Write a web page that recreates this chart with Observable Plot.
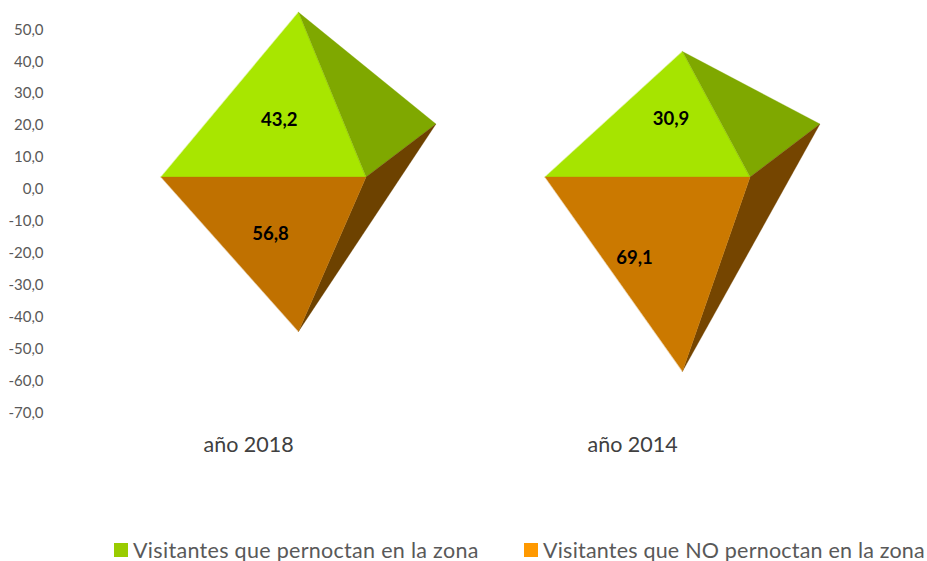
<!DOCTYPE html>
<html><head><meta charset="utf-8">
<script src="https://cdn.jsdelivr.net/npm/d3@7"></script>
<script src="https://cdn.jsdelivr.net/npm/@observablehq/plot@0.6"></script>
<style>
html,body{margin:0;padding:0;background:#fff;width:927px;height:561px;overflow:hidden}
svg{display:block}
#legend{position:relative;height:31px;font-family:Lato,sans-serif;font-size:21.5px;color:#595959;white-space:nowrap}
#legend .i{position:absolute;top:4px;display:flex;align-items:center;height:31px}
#legend .s{width:14px;height:14px;margin-right:5px;display:inline-block}
</style></head><body>
<div id="chart"></div>
<div id="legend"></div>
<script>
const categories = ["año 2018", "año 2014"];
const stayValues = [43.2, 30.9];
const noStayValues = [56.8, 69.1];
const topApex = [55.5, 43.2];
const bottomApex = [-44.5, -57];
const baseFront = 3.9;
const baseBack = 20.5;
const yTicks = [50,40,30,20,10,0,-10,-20,-30,-40,-50,-60,-70];
const seriesNames = ["Visitantes que pernoctan en la zona", "Visitantes que NO pernoctan en la zona"];
const legendColors = ["#99CC00", "#FF9900"];
const faceColors = {
  stayFront: ["#A8E600", "#A6E400"], staySide: ["#7FA800", "#7FA800"],
  noFront: ["#C07100", "#CB7900"], noSide: ["#6D4200", "#754500"]
};
// Horizontal shape of a pyramid, in category units around the category position
const apexX = 0, leftX = -0.358, rightX = 0.176, backX = 0.358;
const labelDx = {stay: [-0.05, -0.03], no: [-0.073, -0.125]};
const labelY = {stay: [21.7, 22.1], no: [-14.1, -21.5]};
const categoryLabelDx = -0.13, categoryLabelY = -80;

const faces = [];
categories.forEach((c, i) => {
  const add = (name, fill, pts) => pts.forEach(([dx, y]) => faces.push({face: c + name, fill, x: i + dx, y}));
  add("stayFront", faceColors.stayFront[i], [[leftX, baseFront], [rightX, baseFront], [apexX, topApex[i]]]);
  add("staySide", faceColors.staySide[i], [[rightX, baseFront], [backX, baseBack], [apexX, topApex[i]]]);
  add("noSide", faceColors.noSide[i], [[rightX, baseFront], [backX, baseBack], [apexX, bottomApex[i]]]);
  add("noFront", faceColors.noFront[i], [[leftX, baseFront], [rightX, baseFront], [apexX, bottomApex[i]]]);
});
const labels = categories.flatMap((c, i) => [
  {x: i + labelDx.stay[i], y: labelY.stay[i], v: stayValues[i]},
  {x: i + labelDx.no[i], y: labelY.no[i], v: noStayValues[i]}
]);
const comma = v => v.toFixed(1).replace(".", ",");

const plot = Plot.plot({
  width: 927, height: 530,
  marginLeft: 43, marginRight: 0, marginTop: 0, marginBottom: 0,
  x: {domain: [0, 1], range: [298, 682], axis: null},
  y: {domain: [-85, 58], range: [460.2, 3.8], axis: null},
  style: {fontFamily: "Lato, sans-serif", background: "#fff"},
  marks: [
    Plot.line(faces, {x: "x", y: "y", z: "face", fill: "fill", stroke: "fill", strokeWidth: 0.3, curve: "linear-closed"}),
    Plot.axisY({ticks: yTicks, anchor: "left", tickSize: 0, tickPadding: 0, tickFormat: comma, label: null, fontSize: 15, color: "#595959"}),
    Plot.text(labels, {x: "x", y: "y", text: d => comma(d.v), fontSize: 18.5, fontWeight: 700, fill: "#000"}),
    Plot.text(categories, {x: (d, i) => i + categoryLabelDx, y: () => categoryLabelY, text: d => d, fontSize: 21.5, fill: "#404040"})
  ]
});
document.getElementById("chart").append(plot);

const lefts = [114, 524];
const spacing = ["0.3px", "0.2px"];
const legend = document.getElementById("legend");
seriesNames.forEach((n, i) => {
  const it = document.createElement("div");
  it.className = "i"; it.style.left = lefts[i] + "px"; it.style.letterSpacing = spacing[i];
  const s = document.createElement("span");
  s.className = "s"; s.style.background = legendColors[i];
  const t = document.createElement("span");
  t.textContent = n;
  it.append(s, t);
  legend.append(it);
});
</script>
</body></html>
